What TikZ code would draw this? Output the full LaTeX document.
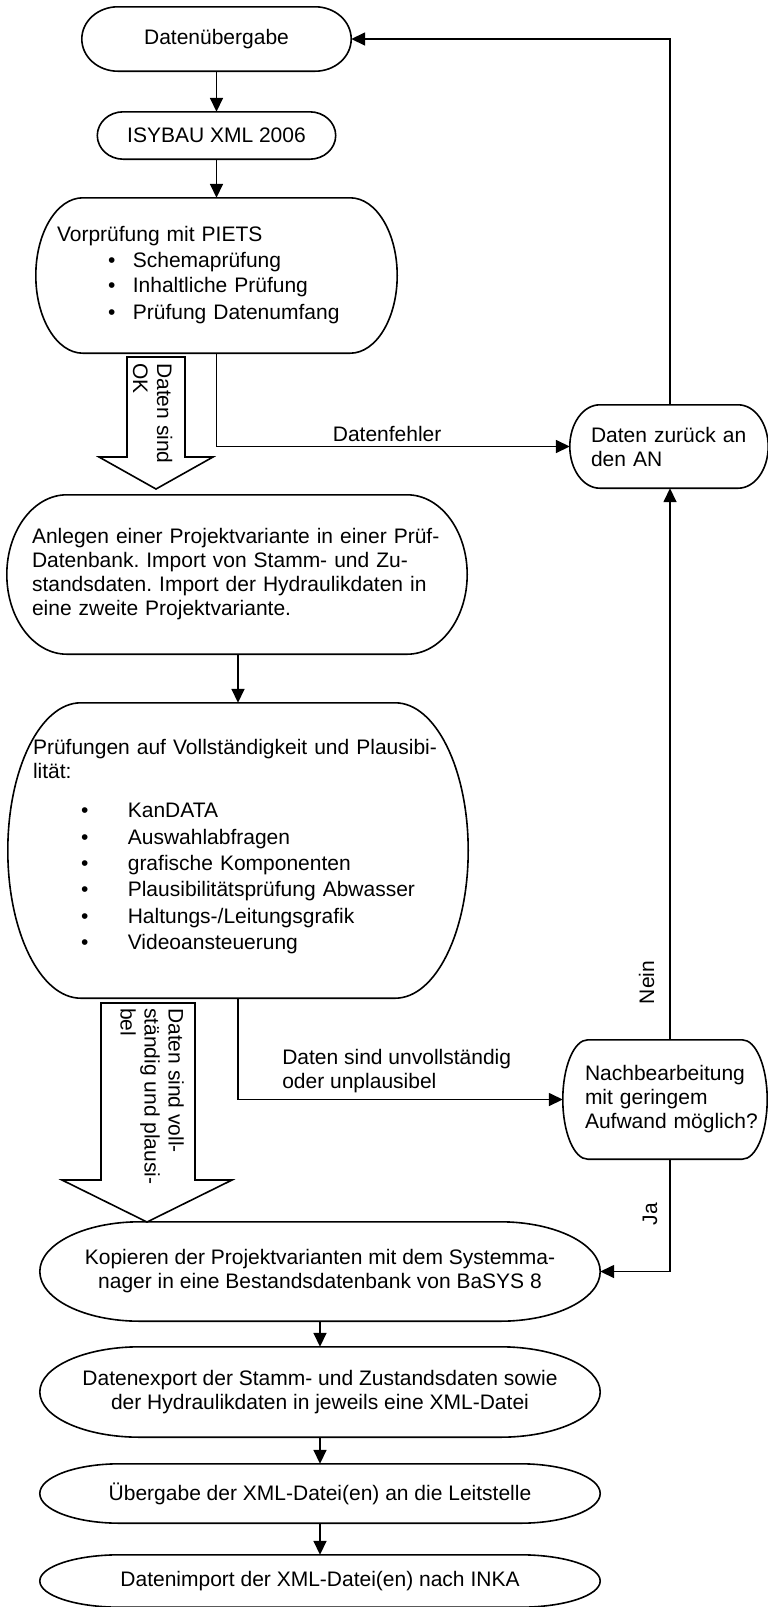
\documentclass[tikz,border=0pt]{standalone}
\usepackage{fontspec}
\setmainfont{Liberation Sans}
\usetikzlibrary{arrows.meta, calc}

\newcommand{\fsz}{\fontsize{21pt}{24pt}\selectfont\frenchspacing}
% outline: flat top and bottom, half-ellipse ends
\newcommand{\termrand}[2]{%
  \draw[umriss] let \p1=(#1.north west), \p2=(#1.south east), \n1={(\y1-\y2)/2} in
    (\x1+#2,\y1) -- (\x2-#2,\y1)
    arc[start angle=90, end angle=-90, x radius=#2, y radius={\n1*1pt}]
    -- (\x1+#2,\y2)
    arc[start angle=270, end angle=90, x radius=#2, y radius={\n1*1pt}] -- cycle;}
\newcommand{\listpkt}[3]{\hspace*{#1}\textbullet\hspace*{#2}#3}

\begin{document}
\begin{tikzpicture}[
    x=1pt, y=-1pt,
    every node/.style={font=\fsz},
    term/.style={inner sep=0pt, align=center},
    termtxt/.style={inner ysep=0pt, align=left},
    umriss/.style={line width=1.6pt, black},
    arrow/.style={-{Triangle[length=14pt, width=13pt]}, line width=1.6pt},
    blockpfeil/.style={line width=1.6pt, fill=white},
    lbl/.style={inner sep=0pt}
]
\useasboundingbox (0,0) rectangle (768,1607);

% --- main column, top ---
\node[term, minimum width=269pt, minimum height=64pt] (du) at (216.5,39) {Datenübergabe};
\termrand{du}{36pt}

\node[term, minimum width=238pt, minimum height=47pt] (isy) at (216.5,135.5) {ISYBAU XML 2006};
\termrand{isy}{26pt}

\node[termtxt, inner xsep=21pt, text width=319pt, minimum height=155pt] (vp) at (216.5,275.5)
    {Vorprüfung mit PIETS\\[2pt]
     \listpkt{51pt}{17.5pt}{Schemaprüfung}\\[1pt]
     \listpkt{51pt}{17.5pt}{Inhaltliche Prüfung}\\[3pt]
     \listpkt{51pt}{17.5pt}{Prüfung Datenumfang}};
\termrand{vp}{47pt}

\node[termtxt, inner xsep=25pt, text width=410pt, minimum height=159pt] (an) at (237,574.5)
    {Anlegen einer Projektvariante in einer Prüf-\\
     Datenbank. Import von Stamm- und Zu-\\
     standsdaten. Import der Hydraulikdaten in\\
     eine zweite Projektvariante.};
\termrand{an}{60pt}

\node[termtxt, inner xsep=25pt, text width=410pt, minimum height=295pt] (pr) at (238,850.5)
    {Prüfungen auf Vollständigkeit und Plausibi-\\
     lität:\\[15pt]
     \listpkt{48pt}{39.5pt}{KanDATA}\\[2.4pt]
     \listpkt{48pt}{39.5pt}{Auswahlabfragen}\\[2.4pt]
     \listpkt{48pt}{39.5pt}{grafische Komponenten}\\[2.4pt]
     \listpkt{48pt}{39.5pt}{Plausibilitätsprüfung Abwasser}\\[2.4pt]
     \listpkt{48pt}{39.5pt}{Haltungs-/Leitungsgrafik}\\[2.4pt]
     \listpkt{48pt}{39.5pt}{Videoansteuerung}\\[-12pt]\mbox{}};
\termrand{pr}{73pt}

% --- right column ---
\node[termtxt, inner xsep=21pt, text width=156pt, minimum height=83pt] (dz) at (669,446.5)
    {Daten zurück an\\den AN};
\termrand{dz}{30pt}

\node[termtxt, inner xsep=22pt, text width=160pt, minimum height=119pt] (nb) at (665,1099.5)
    {Nachbearbeitung\\mit geringem\\\mbox{Aufwand möglich?}};
\termrand{nb}{25pt}

% --- main column, bottom ---
\node[term, minimum width=560pt, minimum height=99pt] (kop) at (320,1271.5)
    {Kopieren der Projektvarianten mit dem Systemma-\\nager in eine Bestandsdatenbank von BaSYS 8};
\termrand{kop}{100pt}

\node[term, minimum width=560pt, minimum height=90pt] (exp) at (320,1392)
    {Datenexport der Stamm- und Zustandsdaten sowie\\der Hydraulikdaten in jeweils eine XML-Datei};
\termrand{exp}{100pt}

\node[term, minimum width=560pt, minimum height=59pt] (ueb) at (320,1493.5)
    {Übergabe der XML-Datei(en) an die Leitstelle};
\termrand{ueb}{80pt}

\node[term, minimum width=560pt, minimum height=52pt] (imp) at (320,1581)
    {Datenimport der XML-Datei(en) nach INKA};
\termrand{imp}{80pt}

% --- block arrows ---
\draw[blockpfeil] (127,357) -- (185,357) -- (185,457) -- (213,457) -- (156,489) -- (99,457) -- (127,457) -- cycle;
\node[lbl, rotate=-90, anchor=north west, align=left] (okTxt) at (172.5,363) {Daten sind\\OK};

\draw[blockpfeil] (101,1003) -- (195,1003) -- (195,1180) -- (232,1180) -- (147,1222) -- (62,1180) -- (101,1180) -- cycle;
\node[lbl, rotate=-90, anchor=north west, align=left] (vollTxt) at (184,1008)
    {Daten sind voll-\\ständig und plausi-\\bel};

% === connectors ===
\coordinate (colB) at (238,0);
\coordinate (colR) at (670,0);

\draw[arrow] (du.south) -- (isy.north);
\draw[arrow] (isy.south) -- (vp.north);
\draw[arrow] (vp.south) |- node[lbl, pos=0.75, above=4pt, xshift=-6pt] (lblFehler) {Datenfehler} (dz.west);
\draw[arrow] (dz.north -| colR) |- (du.east);
\draw[arrow] (an.south -| colB) -- (pr.north -| colB);
\draw[arrow] (pr.south -| colB) |- node[lbl, pos=0.5, anchor=south west, xshift=43.5pt, yshift=6pt, align=left] (lblUnv)
    {Daten sind unvollständig\\oder unplausibel} (nb.west);
\draw[arrow] (nb.north -| colR) -- (dz.south -| colR);
\draw[arrow] (nb.south -| colR) |- (kop.east);
\draw[arrow] (kop.south) -- (exp.north);
\draw[arrow] (exp.south) -- (ueb.north);
\draw[arrow] (ueb.south) -- (imp.north);

% labels beside the right-hand line
\node[lbl, rotate=90, anchor=base] (lblNein) at (654,982.5) {Nein};
\node[lbl, rotate=90, anchor=base] (lblJa) at (657,1214) {Ja};

\end{tikzpicture}
\end{document}
